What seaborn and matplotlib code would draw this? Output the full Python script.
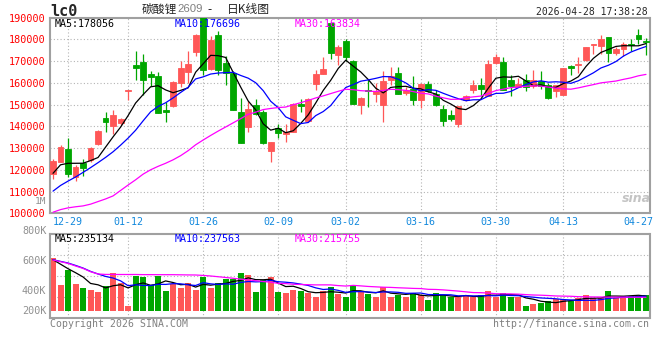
import numpy as np
import pandas as pd
import matplotlib
matplotlib.use("Agg")
import matplotlib.pyplot as plt
import seaborn as sns

# lc0 / 碳酸锂2609 daily K chart, trading days 2025-12-25 .. 2026-04-28
tick_days = [2, 10, 20, 30, 39, 49, 59, 68, 78]
tick_labels = ["12-29", "01-12", "01-26", "02-09", "03-02", "03-16", "03-30", "04-13", "04-27"]

open_px = [118000, 123800, 129600, 116900, 123300, 124600, 131800, 143800, 140200, 141500,
           156300, 168350, 169400, 164050, 163300, 147600, 149150, 159900, 165000, 174000,
           190500, 166500, 182200, 169100, 164500, 146400, 139900, 149900, 146500, 128700,
           139150, 136400, 137300, 150200, 142500, 159450, 164050, 187400, 172600, 179100,
           170250, 149700, 156850, 154850, 149600, 161450, 164500, 155300, 157300, 152200,
           159600, 155000, 148050, 145300, 141150, 151900, 156500, 159100, 154050, 169100,
           169400, 161100, 158050, 161100, 158650, 160650, 159100, 156200, 154500, 167600,
           168000, 170300, 177550, 176770, 181250, 173550, 175600, 178000, 182150, 179400]
high_px = [125000, 131200, 134600, 122000, 124800, 130300, 138250, 146800, 147600, 144000,
           156500, 174500, 173300, 165600, 164800, 151100, 160700, 169900, 174500, 182600,
           191000, 181400, 183700, 172200, 165300, 153000, 151750, 152700, 147600, 133000,
           141000, 141000, 150700, 152500, 153000, 166000, 171700, 188000, 177500, 180200,
           170700, 153300, 161450, 159900, 165300, 167100, 167300, 158000, 163000, 160000,
           160700, 156850, 149900, 147600, 149500, 154500, 161400, 162200, 170300, 173250,
           171900, 163700, 162200, 164200, 165700, 165250, 159900, 159100, 166800, 168300,
           171900, 176500, 177900, 181850, 181300, 176600, 178800, 180300, 184900, 180600]
low_px = [115700, 123500, 116900, 115000, 117300, 123800, 131500, 137600, 136400, 140700,
          152000, 161400, 154500, 158700, 145900, 141900, 148700, 157900, 159900, 172200,
          163500, 166000, 163750, 159100, 147600, 132250, 137300, 145300, 132000, 123800,
          134550, 133000, 137300, 146400, 142200, 156800, 164000, 171100, 168200, 169900,
          150400, 145500, 148700, 151000, 141800, 159100, 154800, 154500, 149900, 148400,
          155700, 149150, 139950, 142300, 139900, 151450, 155300, 153750, 153750, 168800,
          156500, 154050, 158000, 156050, 157600, 157100, 152500, 153700, 154500, 163700,
          164500, 170000, 173400, 173400, 169400, 173000, 172150, 174450, 178000, 173000]
close_px = [124000, 130700, 118100, 121350, 121000, 130000, 137900, 141900, 145000, 143300,
            156500, 166800, 161400, 162800, 145900, 146800, 160350, 166800, 168650, 181870,
            166000, 179900, 166050, 164500, 147600, 132250, 147900, 145800, 132250, 133000,
            136700, 137600, 150200, 149150, 152700, 164050, 166500, 173500, 176300, 171700,
            150400, 153100, 156050, 156350, 161000, 163000, 154850, 156850, 151900, 159600,
            156050, 149900, 142250, 143450, 149150, 153750, 159100, 157100, 168800, 171870,
            156800, 158350, 159300, 158050, 161100, 158650, 152950, 158900, 166800, 166850,
            168650, 176300, 177850, 180300, 173700, 175600, 178000, 177550, 180300, 178800]
volume_k = [853, 414, 649, 430, 369, 333, 303, 398, 605, 451,
            77, 560, 543, 414, 564, 317, 430, 365, 451, 338,
            536, 365, 451, 504, 504, 612, 575, 306, 494, 547,
            306, 290, 333, 311, 290, 225, 317, 386, 269, 225,
            414, 306, 269, 225, 386, 225, 253, 225, 290, 253,
            172, 290, 253, 214, 214, 253, 214, 253, 317, 214,
            290, 225, 225, 76, 108, 129, 153, 184, 184, 161,
            209, 253, 200, 200, 317, 209, 242, 237, 237, 253]

# moving averages of the first days depend on history left of the window
ma5_head = [118400, 122300, 123000, 123000]
ma10_head = [110200, 112800, 114800, 116700, 118800, 121000, 123300, 125700, 128300]
ma30_head = [100500, 101700, 102500, 103000, 103400, 104200, 105400, 106600, 108000, 110500,
             113000, 115400, 118000, 120000, 121600, 123000, 124600, 126500, 128800, 131500,
             133700, 135800, 137800, 139700, 141600, 143500, 145500, 146500, 147700]
vma5_head = [821, 749, 676, 612]
vma10_head = [821, 794, 768, 729, 687, 633, 591, 552, 526]
vma30_head = [816, 789, 762, 720, 681, 628, 591, 584, 584, 583, 583, 583, 581, 581, 580,
              580, 580, 578, 576, 575, 568, 559, 547, 535, 522, 509, 496, 483, 470]

price_ticks = list(range(100000, 190001, 10000))
legend_price = ["MA5:178056", "MA10:176696", "MA30:163834"]
legend_vol = ["MA5:235134", "MA10:237563", "MA30:215755"]
vol_labels = ["800K", "600K", "400K", "200K"]

RED, GREEN = "#ff5757", "#00a600"
MA_COLORS = ["black", "#0000ff", "#ff00ff"]
GRID = "#b4b4b4"
MONO = "DejaVu Sans Mono"
W, H = 660, 360


def moving_avg(values, n, head):
    s = pd.Series(values, dtype=float).rolling(n).mean()
    s.iloc[:n - 1] = head
    return s


def fx(x):
    return x / W


def fy(y):
    return 1 - y / H


df = pd.DataFrame({"day": np.arange(len(close_px)), "open": open_px, "high": high_px,
                   "low": low_px, "close": close_px, "volume": volume_k})
df["dir"] = np.where(df["close"] >= df["open"], "up", "down")
colors = np.where(df["dir"] == "up", RED, GREEN)

sns.set_theme(style="white")
plt.rcParams["font.family"] = [MONO, "DejaVu Sans"]

fig = plt.figure(figsize=(W / 100, H / 100), dpi=100)
ax = fig.add_axes([fx(49.5), fy(213.3), 600 / W, (213.3 - 17.6) / H])
axv = fig.add_axes([fx(49.5), fy(318), 600 / W, 84 / H])

# ---- price panel ----
for p in price_ticks[1:-1]:
    ax.axhline(p, color=GRID, lw=0.8, ls=(0, (1, 2)), zorder=0)
for d in tick_days[:-1]:
    ax.axvline(d, color=GRID, lw=0.8, ls=(0, (1, 2)), zorder=0)

ax.vlines(df["day"], df["low"], df["high"], colors=colors, lw=0.9, zorder=2)
body_lo = df[["open", "close"]].min(axis=1)
body_h = (df["close"] - df["open"]).abs()
ax.bar(df["day"], body_h, bottom=body_lo, width=0.78, color=colors,
       edgecolor=colors, linewidth=0.6, zorder=3)

for n, head, c in zip([5, 10, 30], [ma5_head, ma10_head, ma30_head], MA_COLORS):
    sns.lineplot(x=df["day"], y=moving_avg(close_px, n, head), color=c, lw=0.9,
                 estimator=None, ax=ax, zorder=4)

ax.set_xlim(-0.47, 79.47)
ax.set_ylim(100000, 190000)
ax.set_yticks(price_ticks, [str(p) for p in price_ticks])
ax.set_xticks(tick_days, tick_labels)
ax.tick_params(axis="y", length=0, pad=2.5, labelcolor="#ff0000", labelsize=7.3)
ax.tick_params(axis="x", length=0, pad=2.5, labelcolor="#1188dd", labelsize=7.2)
ax.set_xlabel("")
ax.set_ylabel("")

for x0, txt, c in zip([55, 175, 295], legend_price, MA_COLORS):
    fig.text(fx(x0), fy(24), txt, color=c, fontsize=7.2, va="center", family=MONO)

fig.text(fx(636), fy(199), "sina", color="#c4c4c4", fontsize=9, style="italic",
         weight="bold", ha="center", va="center", family="DejaVu Sans")

# ---- volume panel ----
vlo, vhi = -117.5, 1235
for k in range(1, 4):
    axv.axhline(vlo + (vhi - vlo) * k / 4, color=GRID, lw=0.8, ls=(0, (1, 2)), zorder=0)
for d in tick_days[:-1]:
    axv.axvline(d, color=GRID, lw=0.8, ls=(0, (1, 2)), zorder=0)

axv.bar(df["day"], df["volume"], width=0.8, color=colors, linewidth=0, zorder=2)

for n, head, c in zip([5, 10, 30], [vma5_head, vma10_head, vma30_head], MA_COLORS):
    sns.lineplot(x=df["day"], y=moving_avg(volume_k, n, head), color=c, lw=0.9,
                 estimator=None, ax=axv, zorder=4)

axv.set_xlim(-0.47, 79.47)
axv.set_ylim(vlo, vhi)
axv.set_xticks([])
axv.set_yticks([])
axv.set_xlabel("")
axv.set_ylabel("")

for x0, txt, c in zip([55, 175, 295], legend_vol, MA_COLORS):
    fig.text(fx(x0), fy(238.5), txt, color=c, fontsize=7.2, va="center", family=MONO)

for y0, txt in zip([230.7, 261, 290.7, 310.7], vol_labels):
    fig.text(fx(46.5), fy(y0), txt, color="#909090", fontsize=7.3, ha="right",
             va="center", family=MONO)
fig.text(fx(46.5), fy(201.5), "1M", color="#909090", fontsize=6.8, ha="right",
         va="center", family=MONO)

for a in (ax, axv):
    for s in a.spines.values():
        s.set_color("#a0a0a0")
        s.set_linewidth(1.5)

# ---- header / footer ----
fig.text(fx(50), fy(11.5), "lc0", fontsize=11, weight="bold", va="center", family=MONO)
cjk = ["Noto Sans CJK SC", "DejaVu Sans"]
fig.text(fx(142), fy(9.5), "碳酸锂", fontsize=8.5, va="center", family=cjk)
fig.text(fx(177), fy(9.5), "2609", fontsize=8.2, color="#808080", va="center",
         family="Liberation Sans")
fig.text(fx(207), fy(9.5), "-", fontsize=8.5, va="center", family=cjk)
fig.text(fx(227), fy(9.5), "日K线图", fontsize=8.5, va="center", family=cjk)
fig.text(fx(648), fy(12), "2026-04-28 17:38:28", fontsize=7, ha="right", va="center",
         family=MONO)
fig.text(fx(50), fy(324), "Copyright 2026 SINA.COM", fontsize=7.1, color="#808080",
         va="center", family=MONO)
fig.text(fx(649), fy(324), "http://finance.sina.com.cn", fontsize=7.1, color="#808080",
         ha="right", va="center", family=MONO)

fig.savefig("out.png", dpi=100, facecolor="white")
